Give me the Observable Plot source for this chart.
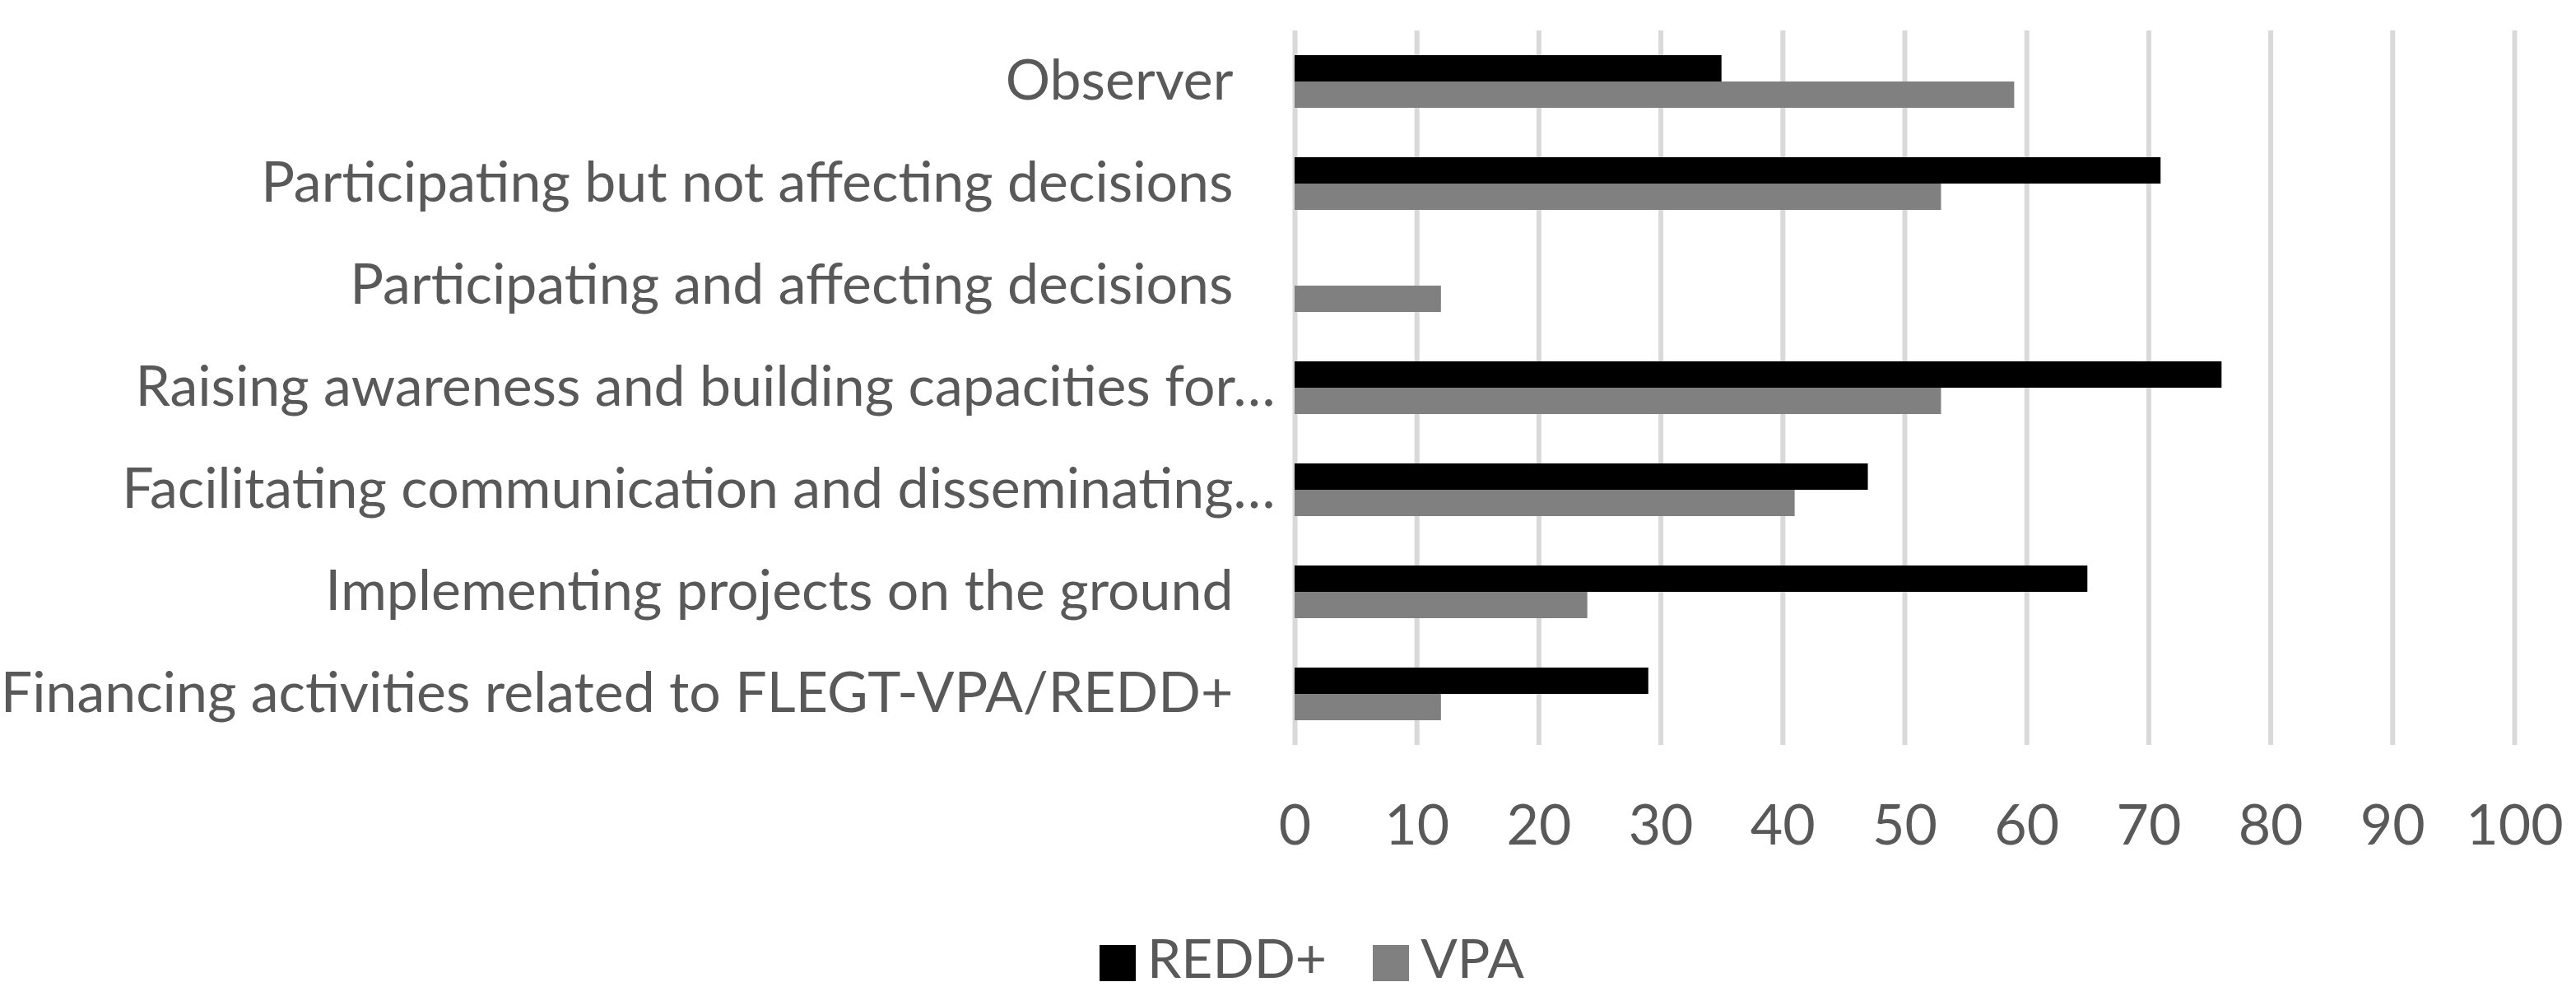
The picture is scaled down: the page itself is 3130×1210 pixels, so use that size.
<!DOCTYPE html>
<html>
<head>
<meta charset="utf-8">
<script src="https://cdn.jsdelivr.net/npm/d3@7"></script>
<script src="https://cdn.jsdelivr.net/npm/@observablehq/plot@0.6"></script>
<style>
  html, body { margin: 0; padding: 0; background: #fff; }
  body { width: 3130px; height: 1210px; overflow: hidden; font-family: Lato, "Liberation Sans", Arial, sans-serif; }
  #legend { display: flex; align-items: flex-end; margin-top: 50px; padding-left: 1336px; color: #595959; font-size: 66px; line-height: 1; }
  .item { display: flex; align-items: flex-end; margin-right: 56px; }
  .sw { width: 44px; height: 44px; margin-right: 14px; margin-bottom: 4px; }
</style>
</head>
<body>
<div id="chart"></div>
<div id="legend"></div>
<script>
const categories = [
  "Observer",
  "Participating but not affecting decisions",
  "Participating and affecting decisions",
  "Raising awareness and building capacities for…",
  "Facilitating communication and disseminating…",
  "Implementing projects on the ground",
  "Financing activities related to FLEGT-VPA/REDD+"
];
const truncated = [
  "Raising awareness and building capacities for…",
  "Facilitating communication and disseminating…"
];
const seriesNames = ["REDD+", "VPA"];
const reddValues = [35, 71, 0, 76, 47, 65, 29];
const vpaValues  = [59, 53, 12, 53, 41, 24, 12];
const xTicks = [0, 10, 20, 30, 40, 50, 60, 70, 80, 90, 100];
const colors = ["#000000", "#808080"];

const rows = [];
categories.forEach((c, i) => {
  rows.push({category: c, series: "REDD+", value: reddValues[i]});
  rows.push({category: c, series: "VPA", value: vpaValues[i]});
});
const labelRows = categories.map(c => ({category: c, trunc: truncated.includes(c)}));

const chart = Plot.plot({
  width: 3130,
  height: 1080,
  marginTop: 35,
  marginBottom: 173,
  marginLeft: 1573,
  marginRight: 75,
  style: {fontFamily: "Lato, 'Liberation Sans', Arial, sans-serif", fontSize: "68px", color: "#595959", background: "#fff"},
  x: {domain: [0, 100], ticks: xTicks, tickSize: 0, tickPadding: 72, label: null, tickFormat: d => String(d)},
  y: {domain: seriesNames, axis: null, paddingInner: 0, paddingOuter: 0.89},
  fy: {domain: categories, axis: null, padding: 0},
  color: {domain: seriesNames, range: colors},
  marks: [
    Plot.ruleX(xTicks, {stroke: "#d9d9d9", strokeWidth: 6}),
    Plot.barX(rows, {fy: "category", y: "series", x: "value", fill: "series"}),
    Plot.text(labelRows.filter(d => !d.trunc), {fy: "category", text: "category", frameAnchor: "left", textAnchor: "end", dx: -75, fontSize: 68, fill: "#595959"}),
    Plot.text(labelRows.filter(d => d.trunc), {fy: "category", text: "category", frameAnchor: "left", textAnchor: "end", dx: -24, fontSize: 68, fill: "#595959"})
  ]
});
document.getElementById("chart").appendChild(chart);

const legend = document.getElementById("legend");
seriesNames.forEach((s, i) => {
  const item = document.createElement("div");
  item.className = "item";
  const sw = document.createElement("div");
  sw.className = "sw";
  sw.style.background = colors[i];
  const t = document.createElement("span");
  t.textContent = s;
  item.appendChild(sw);
  item.appendChild(t);
  legend.appendChild(item);
});
</script>
</body>
</html>
